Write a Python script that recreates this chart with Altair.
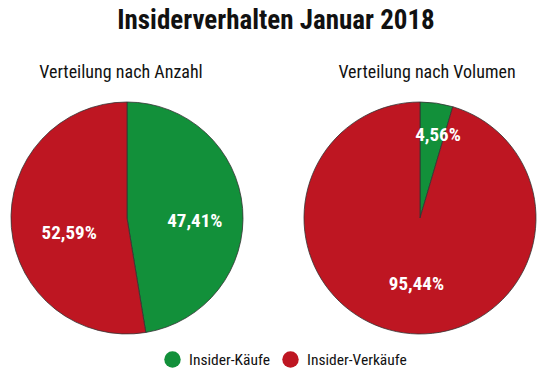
import altair as alt
import pandas as pd

categories = ["Insider-Käufe", "Insider-Verkäufe"]
anzahl = [47.41, 52.59]
volumen = [4.56, 95.44]
panels = ["Verteilung nach Anzahl", "Verteilung nach Volumen"]
title_text = "Insiderverhalten Januar 2018"

rows = []
for p, vals in zip(panels, [anzahl, volumen]):
    for c, v in zip(categories, vals):
        rows.append({"panel": p, "cat": c, "value": v,
                     "label": f"{v:.2f}".replace(".", ",") + "%"})
df = pd.DataFrame(rows)

FONT = "Liberation Sans Narrow, Arial Narrow, Roboto Condensed, Liberation Sans, sans-serif"
colors = ["#12903a", "#be1622"]

centers = {panels[0]: (119, 210), panels[1]: (412, 210)}
# label placement per panel: (radius, dx, dy) for each category
label_pos = {
    panels[0]: [(68, 0, 9), (58, 0, 10)],
    panels[1]: [(84, 6, 0), (67, 6, 0)],
}
sub_x = {panels[0]: 113, panels[1]: 419}
R = 116

color_scale = alt.Scale(domain=categories, range=colors)
legend = alt.Legend(title=None, orient="none", direction="horizontal",
                    legendX=156, legendY=343, symbolType="circle",
                    symbolSize=270, symbolStrokeWidth=0,
                    labelFontSize=15.5, labelFont=FONT, labelColor="#111",
                    labelOffset=8, columnPadding=12)

layers = []
for i, p in enumerate(panels):
    cx, cy = centers[p]
    base = alt.Chart(df).transform_filter(alt.datum.panel == p)
    arc = base.mark_arc(radius=R, stroke="#333333", strokeWidth=0.8).encode(
        theta=alt.Theta("value:Q", stack=True, scale=alt.Scale(domain=[0, 100])),
        order=alt.Order("cat:N"),
        x=alt.value(cx), y=alt.value(cy),
        color=alt.Color("cat:N", scale=color_scale, legend=legend if i == 0 else None),
    )
    layers.append(arc)
    stacked = base.transform_stack(
        stack="value", groupby=["panel"], as_=["v0", "v1"],
        sort=[alt.SortField(field="cat", order="ascending")],
    ).transform_calculate(mid="(datum.v0 + datum.v1) / 2")
    for c, (r, dx, dy) in zip(categories, label_pos[p]):
        txt = stacked.transform_filter(alt.datum.cat == c).mark_text(
            color="white", fontWeight="bold", fontSize=19, font=FONT,
            baseline="middle", align="center", radius=r, dx=dx, dy=dy,
        ).encode(
            theta=alt.Theta("mid:Q", stack=None, scale=alt.Scale(domain=[0, 100])),
            x=alt.value(cx), y=alt.value(cy),
            text="label:N",
        )
        layers.append(txt)
    sub = alt.Chart(pd.DataFrame({"t": [p]})).mark_text(
        fontSize=18, font=FONT, color="#111", baseline="middle", align="center"
    ).encode(x=alt.value(sub_x[p]), y=alt.value(65), text="t:N")
    layers.append(sub)

title = alt.Chart(pd.DataFrame({"t": [title_text]})).mark_text(
    fontSize=27, fontWeight="bold", font=FONT, color="#111", baseline="top", align="center"
).encode(x=alt.value(268), y=alt.value(0), text="t:N")
layers.append(title)

chart = alt.layer(*layers).properties(
    width=534, height=364, padding=0, autosize=alt.AutoSizeParams(type="none")
).configure_view(stroke=None)

chart.save("out.html", embed_options={"renderer": "svg", "actions": False})
